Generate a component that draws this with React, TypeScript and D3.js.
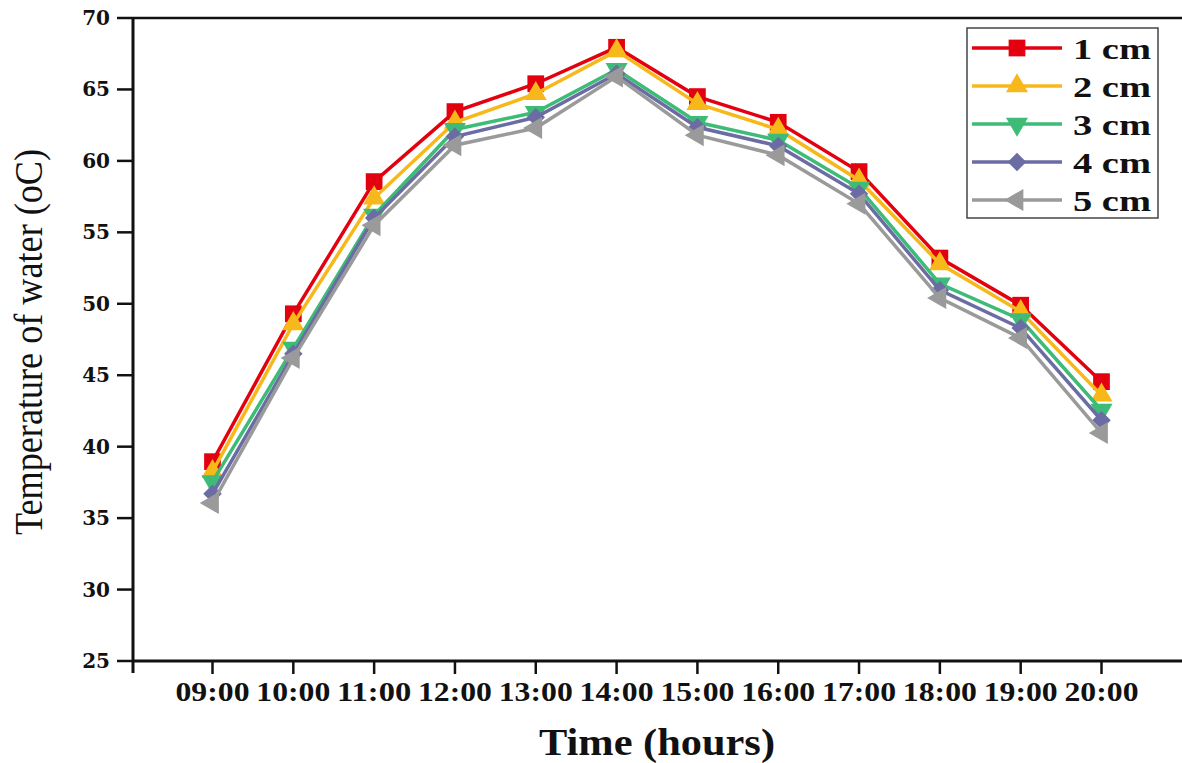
import React, { useEffect, useRef } from 'react'
import * as d3 from 'd3'

// hours on the x axis
const hours = ['09:00', '10:00', '11:00', '12:00', '13:00', '14:00', '15:00', '16:00', '17:00', '18:00', '19:00', '20:00']
const yTicks = [25, 30, 35, 40, 45, 50, 55, 60, 65, 70]

// water temperature per depth (oC)
const cm1 = [38.95, 49.3, 58.55, 63.45, 65.4, 67.95, 64.5, 62.7, 59.25, 53.2, 49.9, 44.55]
const cm2 = [38.25, 48.6, 57.4, 62.7, 64.7, 67.7, 64.0, 62.2, 58.65, 52.8, 49.45, 43.6]
const cm3 = [37.55, 46.9, 56.2, 62.2, 63.4, 66.4, 62.7, 61.45, 58.1, 51.4, 48.9, 42.55]
const cm4 = [36.7, 46.5, 56.0, 61.7, 63.05, 66.1, 62.35, 61.05, 57.7, 50.95, 48.3, 41.85]
const cm5 = [36.05, 46.2, 55.5, 61.1, 62.3, 65.9, 61.8, 60.4, 57.0, 50.4, 47.6, 40.95]

const seriesNames = ['1 cm', '2 cm', '3 cm', '4 cm', '5 cm']
const seriesValues = [cm1, cm2, cm3, cm4, cm5]
const colors = ['#e3000f', '#f7b81c', '#3dbb77', '#6b6ca3', '#9a9a9a']

const serif = '"Liberation Serif", "Times New Roman", Times, serif'

const App = () => {
    const ref = useRef<SVGSVGElement>(null)

    useEffect(() => {
        const svg = d3.select(ref.current)
        svg.selectAll('*').remove()

        const left = 133, right = 1182, top = 18, bottom = 661

        const x = d3.scalePoint().domain(hours).range([212.5, 1101.5])
        const y = d3.scaleLinear().domain([25, 70]).range([bottom, top])

        // markers: square, up triangle, down triangle, diamond, left triangle
        const marker = (i: number) => {
            if (i === 0) return { path: d3.symbol(d3.symbolSquare, 280)(), rot: 0 }
            if (i === 1) return { path: d3.symbol(d3.symbolTriangle, 210)(), rot: 0 }
            if (i === 2) return { path: d3.symbol(d3.symbolTriangle, 210)(), rot: 180 }
            if (i === 3) return { path: d3.symbol(d3.symbolSquare, 170)(), rot: 45 }
            return { path: d3.symbol(d3.symbolTriangle, 210)(), rot: -90 }
        }

        // axes frame
        svg.append('line').attr('x1', left).attr('x2', right).attr('y1', top).attr('y2', top)
            .attr('stroke', '#111').attr('stroke-width', 2.5)
        svg.append('line').attr('x1', left).attr('x2', right).attr('y1', bottom).attr('y2', bottom)
            .attr('stroke', '#111').attr('stroke-width', 3)
        svg.append('line').attr('x1', left).attr('x2', left).attr('y1', top).attr('y2', bottom + 12)
            .attr('stroke', '#111').attr('stroke-width', 3)

        // y ticks
        yTicks.forEach((t) => {
            svg.append('line').attr('x1', left - 16).attr('x2', left).attr('y1', y(t)).attr('y2', y(t))
                .attr('stroke', '#111').attr('stroke-width', 2.5)
            svg.append('text').attr('x', 110).attr('y', y(t)).attr('dy', '0.35em')
                .attr('text-anchor', 'end')
                .style('font-family', '"DejaVu Serif", serif').style('font-weight', 'bold').style('font-size', '20px')
                .attr('fill', '#111').text(t)
        })

        // x ticks
        hours.forEach((h) => {
            const px = x(h) as number
            svg.append('line').attr('x1', px).attr('x2', px).attr('y1', bottom).attr('y2', bottom + 13)
                .attr('stroke', '#111').attr('stroke-width', 2.5)
            svg.append('text').attr('x', px).attr('y', 701).attr('text-anchor', 'middle')
                .attr('textLength', 74).attr('lengthAdjust', 'spacingAndGlyphs')
                .style('font-family', serif).style('font-weight', 'bold').style('font-size', '28px')
                .attr('fill', '#111').text(h)
        })

        // axis titles
        svg.append('text').attr('x', 657).attr('y', 755).attr('text-anchor', 'middle')
            .attr('textLength', 236).attr('lengthAdjust', 'spacingAndGlyphs')
            .style('font-family', serif).style('font-weight', 'bold').style('font-size', '38px')
            .attr('fill', '#111').text('Time (hours)')
        svg.append('text').attr('transform', 'translate(42,342) rotate(-90)').attr('text-anchor', 'middle')
            .attr('textLength', 386).attr('lengthAdjust', 'spacingAndGlyphs')
            .style('font-family', serif).style('font-weight', 'normal').style('font-size', '40px')
            .attr('fill', '#111').text('Temperature of water (oC)')

        // series
        const line = d3.line<number>().x((_, i) => x(hours[i]) as number).y((d) => y(d))
        seriesValues.forEach((vals, si) => {
            svg.append('path').attr('d', line(vals)).attr('fill', 'none')
                .attr('stroke', colors[si]).attr('stroke-width', 3.5)
            const m = marker(si)
            svg.selectAll('.m' + si).data(vals).enter().append('path')
                .attr('class', 'm' + si)
                .attr('d', m.path)
                .attr('transform', (d, i) => 'translate(' + x(hours[i]) + ',' + y(d) + ') rotate(' + m.rot + ')')
                .attr('fill', colors[si])
        })

        // legend
        const lg = svg.append('g')
        lg.append('rect').attr('x', 967).attr('y', 28).attr('width', 191).attr('height', 190)
            .attr('fill', 'white').attr('stroke', '#444').attr('stroke-width', 1.5)
        seriesNames.forEach((name, si) => {
            const ly = 48 + si * 38
            lg.append('line').attr('x1', 972).attr('x2', 1062).attr('y1', ly).attr('y2', ly)
                .attr('stroke', colors[si]).attr('stroke-width', 3.5)
            const m = marker(si)
            lg.append('path').attr('d', m.path)
                .attr('transform', 'translate(1017,' + ly + ') rotate(' + m.rot + ')')
                .attr('fill', colors[si])
            lg.append('text').attr('x', 1073).attr('y', ly).attr('dy', '0.35em')
                .attr('textLength', 78).attr('lengthAdjust', 'spacingAndGlyphs')
                .style('font-family', serif).style('font-weight', 'bold').style('font-size', '30px')
                .attr('fill', '#111').text(name)
        })
    }, [])

    return (
        <svg ref={ref} width={1182} height={763}
            style={{ position: 'absolute', left: 0, top: 0, background: 'white' }} />
    )
}

export default App
